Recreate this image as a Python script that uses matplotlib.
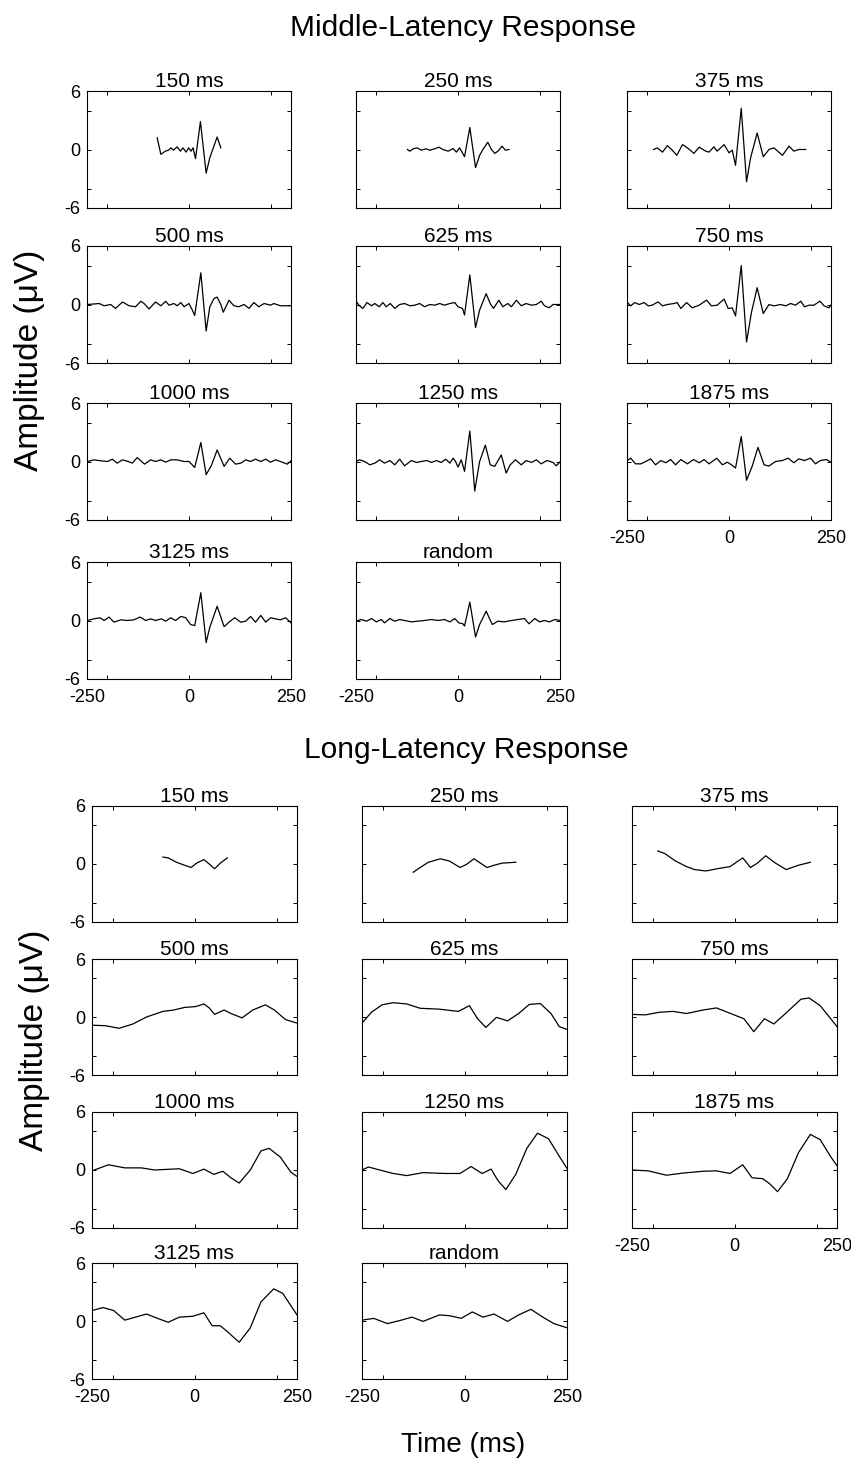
import matplotlib
matplotlib.use("Agg")
import matplotlib.pyplot as plt

plt.rcParams['font.family'] = ['Liberation Sans', 'DejaVu Sans']

# ---- Middle-latency response traces (time in ms, amplitude in uV) ----
mlr_150_t = [-78, -69, -58, -50, -44, -38, -29, -21, -15, -7, -1, 5, 10, 16, 28, 42, 51, 69, 78]
mlr_150_v = [1.2, -0.5, -0.17, -0.07, 0.17, -0.07, 0.27, -0.17, 0.17, -0.27, 0.17, -0.17, 0.17,
             -0.94, 2.86, -2.42, -0.84, 1.28, 0.17]

mlr_250_t = [-124, -118, -110, -100, -90, -79, -69, -57, -47, -37, -24, -12, -4, 4, 16, 29, 43,
             53, 61, 73, 82, 90, 98, 108, 116, 125]
mlr_250_v = [0, -0.17, 0.07, 0.17, -0.07, 0.07, -0.07, 0.07, 0.24, 0, -0.17, 0.1, -0.27, 0.17,
             -0.74, 2.26, -1.86, -0.6, 0, 0.74, 0, -0.4, -0.17, 0.34, -0.07, 0]

mlr_375_t = [-185, -176, -163, -151, -139, -128, -114, -102, -86, -73, -57, -49, -37, -29, -12,
             0, 8, 16, 30, 43, 53, 69, 84, 98, 110, 131, 147, 159, 171, 188]
mlr_375_v = [0, 0.17, -0.27, 0.4, -0.07, -0.6, 0.5, 0.17, -0.4, 0.24, -0.17, -0.27, 0.27, -0.17,
             0.5, -0.34, -0.07, -1.62, 4.22, -3.31, -0.84, 1.69, -0.74, 0, 0.17, -0.6, 0.34,
             -0.17, 0, 0]

mlr_500_t = [-249, -220, -208, -192, -180, -163, -147, -131, -118, -110, -98, -82, -69, -57, -49,
             -37, -29, -20, -12, 0, 8, 14, 29, 42, 51, 61, 69, 78, 84, 98, 110, 122, 135, 147,
             159, 171, 184, 200, 208, 224, 250]
mlr_500_v = [0, 0.1, -0.13, 0, -0.4, 0.26, -0.13, -0.23, 0.33, 0.1, -0.46, 0.26, -0.13, 0.33,
             -0.07, 0.1, -0.13, 0.2, -0.23, 0.1, -0.56, -1.13, 3.25, -2.72, -0.23, 0.6, 0.76, 0,
             -0.79, 0.43, -0.13, -0.23, 0, -0.4, 0.2, -0.23, 0.1, -0.07, 0.1, -0.13, -0.13]

mlr_625_t = [-251, -242, -233, -223, -212, -204, -193, -184, -176, -166, -155, -143, -131, -118,
             -106, -94, -82, -69, -57, -45, -33, -20, -8, 0, 11, 16, 29, 43, 53, 61, 69, 79, 87,
             100, 110, 122, 131, 143, 155, 167, 180, 192, 204, 212, 223, 233, 251]
mlr_625_v = [0.44, -0.13, -0.4, 0.2, -0.13, 0.1, -0.23, 0.2, -0.23, 0.1, -0.4, 0, 0.1, -0.13,
             -0.07, 0.1, -0.23, 0, -0.07, 0.1, -0.07, 0.1, 0.2, -0.23, -0.4, -1.08, 3.04, -2.36,
             -0.57, 0.27, 1.11, 0.1, -0.4, 0.44, -0.23, 0.1, -0.23, 0.44, -0.13, 0.1, -0.07, 0,
             0.34, -0.13, -0.34, 0, 0]

mlr_750_t = [-249, -241, -231, -220, -208, -198, -188, -174, -163, -151, -135, -127, -118, -104,
             -90, -73, -55, -43, -29, -12, -2, 8, 16, 30, 43, 55, 69, 84, 98, 110, 127, 139, 151,
             163, 176, 185, 196, 208, 223, 233, 245, 251]
mlr_750_v = [0.2, -0.14, 0.2, 0, 0.2, -0.14, -0.07, 0.27, -0.14, 0, 0.1, 0.2, -0.41, 0.2, -0.34,
             -0.07, 0.45, -0.14, -0.07, 0.55, -0.41, -0.34, -1.17, 3.99, -3.85, -0.82, 1.72,
             -0.93, 0, -0.14, 0, -0.14, 0.1, -0.07, 0.34, -0.24, -0.07, -0.07, 0.34, -0.14,
             -0.34, 0]

mlr_1000_t = [-249, -233, -216, -200, -188, -176, -163, -149, -139, -127, -109, -94, -82, -69,
              -57, -45, -29, -12, 0, 14, 29, 42, 55, 69, 86, 100, 114, 127, 139, 151, 163, 176,
              188, 200, 212, 224, 241, 250]
mlr_1000_v = [0, 0.17, 0.07, 0, 0.24, -0.17, 0.17, 0, -0.17, 0.4, -0.27, 0.17, 0, 0.17, -0.07,
              0.17, 0.17, 0, 0, -0.61, 1.95, -1.35, -0.4, 1.18, -0.5, 0.34, -0.27, -0.17, 0.17,
              0, 0.24, 0, 0.24, -0.07, 0.17, 0, -0.27, 0.07]

mlr_1250_t = [-251, -241, -229, -216, -204, -192, -180, -167, -155, -143, -131, -114, -102, -90,
              -76, -65, -53, -41, -30, -20, -12, -6, 0, 8, 16, 29, 41, 53, 67, 79, 90, 106, 118,
              128, 141, 155, 167, 180, 192, 204, 218, 233, 241, 251]
mlr_1250_v = [0, 0.17, 0, -0.34, -0.17, 0.17, -0.17, 0.1, -0.34, 0.24, -0.44, 0.1, -0.1, 0, 0.1,
              -0.1, 0.1, -0.1, 0.24, -0.17, 0.34, 0, -0.57, 0.17, -1.01, 3.13, -3.03, 0, 1.68,
              -0.34, -0.5, 0.67, -1.18, -0.34, 0.17, -0.34, 0.1, -0.1, 0.17, -0.24, 0.1, -0.1,
              -0.44, 0]

mlr_1875_t = [-249, -241, -229, -216, -204, -192, -180, -167, -155, -143, -131, -118, -102, -87,
              -73, -61, -49, -30, -16, -4, 6, 16, 30, 43, 57, 71, 86, 98, 114, 131, 145, 159,
              171, 185, 200, 212, 224, 239, 250]
mlr_1875_v = [0.1, 0.34, -0.24, -0.24, 0, 0.27, -0.34, 0.1, -0.13, 0.2, -0.34, 0.2, -0.24, 0.2,
              -0.13, 0.2, -0.24, 0.34, -0.34, -0.07, -0.34, -0.67, 2.56, -1.92, -0.47, 1.45,
              -0.34, -0.47, 0, 0.1, 0.34, -0.13, 0.27, 0.1, 0.34, -0.24, 0.1, 0.2, -0.07]

mlr_3125_t = [-249, -233, -218, -208, -196, -184, -167, -151, -135, -120, -106, -94, -82, -68,
              -57, -45, -33, -20, -8, 4, 14, 29, 42, 51, 69, 86, 98, 112, 127, 139, 151, 163,
              176, 188, 200, 212, 224, 237, 251]
mlr_3125_v = [0, 0.17, 0.28, 0, 0.35, -0.17, 0.07, 0, 0.07, 0.35, 0, 0.17, 0, 0.17, -0.07, 0.28,
              0, 0.42, 0.28, -0.42, -0.52, 2.85, -2.26, -0.69, 1.46, -0.63, -0.17, 0.28, -0.17,
              -0.07, 0.42, -0.17, 0.52, -0.17, 0.28, 0.17, 0.07, 0.28, -0.28]

mlr_rand_t = [-251, -237, -224, -212, -200, -188, -180, -167, -155, -143, -131, -114, -98, -82,
              -65, -49, -33, -20, -8, 2, 12, 16, 29, 43, 53, 69, 84, 98, 114, 131, 147, 163, 174,
              188, 200, 212, 224, 237, 251]
mlr_rand_v = [-0.07, 0.1, -0.07, 0.2, -0.14, 0.1, -0.24, 0.2, -0.07, 0.1, 0, -0.14, -0.07, 0,
              0.1, 0, 0.1, -0.14, 0.2, -0.24, -0.34, -0.57, 1.89, -1.69, -0.41, 0.95, -0.41,
              -0.07, -0.14, 0, 0.1, 0.2, -0.34, 0.2, -0.14, 0, -0.14, 0.1, 0]

# ---- Long-latency response traces ----
llr_150_t = [-77, -64, -44, -24, -8, 5, 23, 36, 49, 63, 80]
llr_150_v = [0.72, 0.63, 0.18, -0.13, -0.36, 0.09, 0.45, 0, -0.49, 0.09, 0.63]

llr_250_t = [-125, -108, -88, -59, -37, -11, 5, 23, 39, 55, 72, 92, 125]
llr_250_v = [-0.85, -0.36, 0.18, 0.54, 0.31, -0.36, -0.04, 0.54, 0.09, -0.36, -0.13, 0.09, 0.18]

llr_375_t = [-187, -170, -144, -117, -97, -70, -37, -11, 20, 39, 56, 76, 100, 126, 156, 185]
llr_375_v = [1.35, 1.08, 0.31, -0.27, -0.58, -0.72, -0.45, -0.27, 0.63, -0.36, 0.09, 0.85,
             0.09, -0.58, -0.13, 0.18]

llr_500_t = [-250, -217, -184, -150, -117, -77, -51, -24, 3, 23, 36, 49, 72, 89, 116, 142, 173,
             195, 222, 250]
llr_500_v = [-0.85, -0.9, -1.17, -0.72, 0, 0.58, 0.72, 0.99, 1.08, 1.35, 0.94, 0.27, 0.72, 0.36,
             -0.09, 0.72, 1.26, 0.72, -0.27, -0.63]

llr_625_t = [-250, -227, -201, -174, -141, -108, -61, -15, 12, 32, 52, 78, 105, 132, 158, 185,
             211, 231, 251]
llr_625_v = [-0.63, 0.49, 1.26, 1.48, 1.35, 0.9, 0.81, 0.58, 1.17, -0.18, -1.08, -0.04, -0.4,
             0.36, 1.3, 1.39, 0.36, -0.99, -1.3]

llr_750_t = [-250, -217, -184, -150, -117, -77, -44, -4, 23, 47, 73, 96, 122, 162, 182, 209, 250]
llr_750_v = [0.27, 0.22, 0.49, 0.58, 0.36, 0.72, 0.94, 0.27, -0.18, -1.52, -0.18, -0.72, 0.27,
             1.84, 1.97, 1.17, -0.99]

llr_1000_t = [-250, -210, -170, -130, -97, -37, -4, 23, 47, 69, 89, 109, 136, 162, 182, 209,
              235, 250]
llr_1000_v = [-0.09, 0.54, 0.22, 0.22, 0, 0.13, -0.36, 0.09, -0.45, -0.13, -0.81, -1.35, 0,
              1.97, 2.24, 1.35, -0.22, -0.67]

llr_1250_t = [-250, -234, -207, -174, -141, -101, -48, -11, 16, 43, 65, 82, 101, 125, 152, 178,
              205, 231, 251]
llr_1250_v = [0, 0.31, 0, -0.36, -0.58, -0.27, -0.36, -0.36, 0.36, -0.36, 0.09, -1.12, -2.02,
              -0.45, 2.24, 3.81, 3.23, 1.43, 0.09]

llr_1875_t = [-250, -210, -166, -124, -77, -44, -11, 20, 43, 69, 86, 105, 129, 156, 185, 209,
              235, 250]
llr_1875_v = [0, -0.09, -0.54, -0.31, -0.13, -0.09, -0.36, 0.54, -0.81, -0.9, -1.43, -2.24,
              -0.9, 1.79, 3.68, 3.14, 1.35, 0.45]

llr_3125_t = [-250, -223, -197, -170, -144, -117, -90, -64, -37, -4, 23, 43, 63, 82, 109, 136,
              162, 193, 215, 250]
llr_3125_v = [1.08, 1.39, 1.08, 0.09, 0.4, 0.72, 0.27, -0.13, 0.4, 0.49, 0.85, -0.49, -0.49,
              -1.17, -2.2, -0.72, 1.97, 3.32, 2.87, 0.63]

llr_rand_t = [-250, -221, -188, -154, -128, -101, -61, -35, -8, 19, 45, 72, 105, 132, 162, 191,
              218, 251]
llr_rand_v = [0.09, 0.27, -0.27, 0.09, 0.4, -0.04, 0.63, 0.54, 0.27, 0.94, 0.4, 0.72, -0.04,
              0.63, 1.21, 0.4, -0.27, -0.72]

titles = ["150 ms", "250 ms", "375 ms", "500 ms", "625 ms", "750 ms",
          "1000 ms", "1250 ms", "1875 ms", "3125 ms", "random"]

mlr_traces = [(mlr_150_t, mlr_150_v), (mlr_250_t, mlr_250_v), (mlr_375_t, mlr_375_v),
              (mlr_500_t, mlr_500_v), (mlr_625_t, mlr_625_v), (mlr_750_t, mlr_750_v),
              (mlr_1000_t, mlr_1000_v), (mlr_1250_t, mlr_1250_v), (mlr_1875_t, mlr_1875_v),
              (mlr_3125_t, mlr_3125_v), (mlr_rand_t, mlr_rand_v)]
llr_traces = [(llr_150_t, llr_150_v), (llr_250_t, llr_250_v), (llr_375_t, llr_375_v),
              (llr_500_t, llr_500_v), (llr_625_t, llr_625_v), (llr_750_t, llr_750_v),
              (llr_1000_t, llr_1000_v), (llr_1250_t, llr_1250_v), (llr_1875_t, llr_1875_v),
              (llr_3125_t, llr_3125_v), (llr_rand_t, llr_rand_v)]

W, H = 851, 1468
fig = plt.figure(figsize=(W / 100, H / 100), dpi=100)

# panels that carry x tick labels (bottom of each column)
xlabel_idx = {8, 9, 10}


def draw_block(traces, col_left, row_top, pw, ph):
    for i, (t, v) in enumerate(traces):
        r, c = divmod(i, 3)
        x0 = col_left[c]
        y0 = row_top[r]
        ax = fig.add_axes([x0 / W, 1 - (y0 + ph) / H, pw / W, ph / H])
        ax.plot(t, v, color='black', lw=0.9, solid_joinstyle='round')
        ax.set_xlim(-250, 250)
        ax.set_ylim(-6, 6)
        for s in ax.spines.values():
            s.set_linewidth(0.8)
        # labelled ticks sit at the limits and at zero, extra marks at +-200 / +-4
        ax.set_xticks([-250, 0, 250])
        ax.set_yticks([-6, 0, 6])
        ax.set_xticks([-200, 200], minor=True)
        ax.set_yticks([-4, 4], minor=True)
        if i in xlabel_idx:
            ax.set_xticklabels(["-250", "0", "250"], fontsize=13)
        else:
            ax.set_xticklabels([])
        if c == 0:
            ax.set_yticklabels(["-6", "0", "6"], fontsize=13)
        else:
            ax.set_yticklabels([])
        ax.tick_params(which='both', direction='in', length=3, width=0.7,
                       top=True, right=True)
        ax.tick_params(axis='x', pad=7)
        ax.tick_params(axis='y', pad=5)
        ax.set_title(titles[i], fontsize=15, pad=3)


draw_block(mlr_traces, [87, 356, 627], [91, 246, 403, 562], 204, 117)
draw_block(llr_traces, [92, 362, 632], [806, 959, 1112, 1263], 205, 116)

fig.text(463 / W, 1 - 28 / H, "Middle-Latency Response", ha='center', va='center', fontsize=21.5)
fig.text(466 / W, 1 - 750 / H, "Long-Latency Response", ha='center', va='center', fontsize=21.5)
fig.text(30 / W, 1 - 360 / H, "Amplitude (\u03bcV)", rotation=90, ha='center', va='center',
         fontsize=24)
fig.text(35 / W, 1 - 1040 / H, "Amplitude (\u03bcV)", rotation=90, ha='center', va='center',
         fontsize=24)
fig.text(463 / W, 1 - 1445 / H, "Time (ms)", ha='center', va='center', fontsize=20)

fig.savefig("out.png", dpi=100)
